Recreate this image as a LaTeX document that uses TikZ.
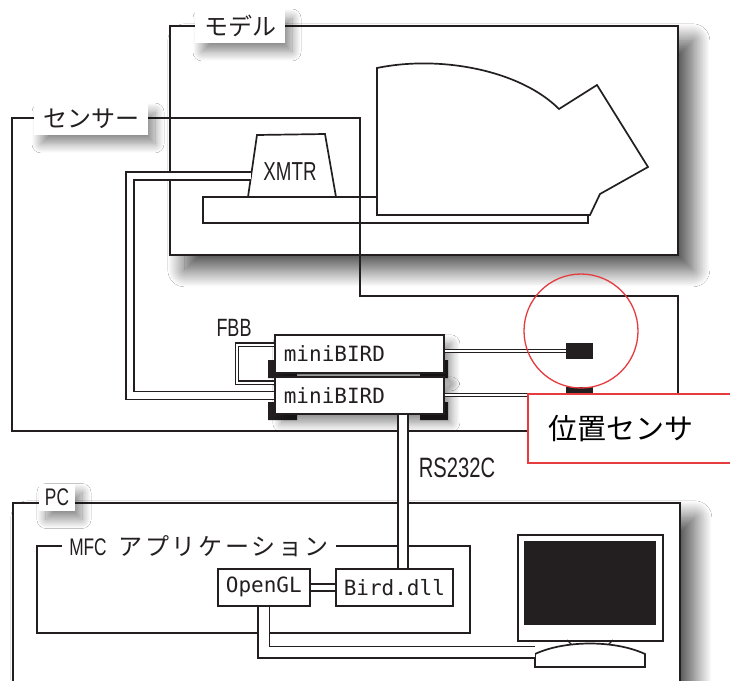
\documentclass[tikz,border=0pt]{standalone}
\usepackage{fontspec}
\setmainfont{Liberation Sans}
\newfontfamily\jpfont{Noto Sans CJK JP}
\newfontfamily\narrowfont[FakeStretch=0.72]{Liberation Sans}
\newfontfamily\codefont{DejaVu Sans Mono}
\usetikzlibrary{shadows.blur}

\definecolor{ink}{HTML}{231F20}
\definecolor{markred}{HTML}{E63B3F}

\tikzset{
  frame/.style={draw=ink, line width=1.7pt},
  paper/.style={frame, fill=white},
  softshadow/.style={blur shadow={shadow xshift=15pt, shadow yshift=-15pt,
      shadow blur radius=17pt, shadow blur steps=28, shadow opacity=70}},
  smallshadow/.style={blur shadow={shadow xshift=7pt, shadow yshift=-9pt,
      shadow blur radius=9pt, shadow blur steps=18, shadow opacity=45}},
  tag/.style={fill=white, inner xsep=9pt, inner ysep=6pt, text=ink},
  jp/.style={font=\jpfont\fontsize{24}{24}\selectfont},
  latin/.style={text=ink, inner sep=0pt, font=\narrowfont\fontsize{#1}{#1}\selectfont},
  latin/.default=26,
  birdbox/.style={paper, anchor=north west, inner sep=0pt, text=ink,
      font=\codefont\fontsize{21}{21}\selectfont},
  cable/.style={draw=ink, line width=1.5pt, double=white, double distance=#1},
  cable/.default=6.5pt,
  wire/.style={draw=ink, line width=1.1pt, double=white, double distance=#1},
  wire/.default=2.2pt,
  plug/.style={fill=ink, inner sep=0pt, minimum width=27pt, minimum height=16pt}
}

\begin{document}
\begin{tikzpicture}[x=1pt, y=-1pt]
  \fill[white] (0,0) rectangle (730,680);
  \useasboundingbox (0,0) rectangle (730,680);

  % model frame: tray, model body and transmitter
  \node[paper, softshadow, anchor=north west, minimum width=508pt,
        minimum height=229pt] (model) at (169,25) {};
  \draw[paper] (203,197) rectangle (588,223);
  \draw[paper] (377,215) -- (377,68) .. controls (440,55) and (520,70) .. (559,109)
     -- (597,85) -- (648,167) -- (600,194) -- (590,215) -- cycle;
  \draw[paper] (248,197) -- (257,135) -- (325,134) -- (336,197) -- cycle;
  \node[latin] (xmtr) at (290,172) {XMTR};
  \coordinate (xmtrport) at (251,176);
  \node[tag, jp, smallshadow] (modeltag) at (240,26) {モデル};

  % sensor frame
  \draw[frame] (12,118) -- (360,118) -- (360,296) -- (678,296) -- (678,431)
     -- (12,431) -- cycle;
  \node[tag, jp, smallshadow] (sensortag) at (91,119) {センサー};

  % two miniBIRD units with feet, FBB loop and cables
  \fill[ink] (268,360) rectangle (297,378) (420,360) rectangle (448,378)
             (268,402) rectangle (297,420) (420,402) rectangle (448,420);
  \node[birdbox, smallshadow, minimum width=169pt, minimum height=38pt,
        text width=151pt, inner xsep=9pt, align=left] (birdA) at (274,334) {miniBIRD};
  \node[birdbox, smallshadow, minimum width=169pt, minimum height=37pt,
        text width=151pt, inner xsep=9pt, align=left] (birdB) at (274,376) {miniBIRD};
  \draw[gray, line width=1pt] (297,374) -- (420,374);
  \node[latin=25] (fbb) at (234,328) {FBB};
  \draw[wire=2.6pt] ([yshift=9pt]birdA.west) -| ([xshift=-37pt, yshift=12.5pt]birdB.west)
     -- ([yshift=12.5pt]birdB.west);
  \draw[cable] (xmtrport) -- (130,176) |- (birdB.west);

  % position sensors
  \node[plug] (plugA) at (579.5,351) {};
  \node[plug] (plugB) at (579.5,395) {};
  \draw[wire] (birdA.east |- plugA) -- (plugA);
  \draw[wire] (birdB.east |- plugB) -- (plugB);

  % PC frame
  \node[paper, softshadow, anchor=north west, minimum width=667pt,
        minimum height=220pt] (pc) at (12,502) {};
  \node[latin=24, tag, inner xsep=6pt, inner ysep=5pt, smallshadow] (pctag) at (57,497) {PC};

  % MFC application
  \draw[frame] (37,546) rectangle (470,633);
  \node[fill=white, text=ink, inner xsep=7pt, inner ysep=2pt] (mfctag) at (199,546)
     {\narrowfont\fontsize{24}{24}\selectfont MFC\hspace{12pt}%
      \jpfont\fontsize{24}{24}\selectfont\addfontfeature{LetterSpace=11}アプリケーション};
  \node[birdbox, minimum width=92pt, minimum height=37pt] (ogl) at (217,568) {OpenGL};
  \node[birdbox, minimum width=117pt, minimum height=37pt] (dll) at (335,568) {Bird.dll};
  \draw[cable=5.5pt] (ogl) -- (dll);

  % monitor
  \node[paper, anchor=north west, minimum width=145pt, minimum height=106pt]
     (monitor) at (517,534) {};
  \fill[ink] (524,541) rectangle (656,625);
  \draw[ink, line width=1.3pt] (567,640) -- (573,646) (613,640) -- (607,646);
  \draw[paper] (535,667) -- (535,654) .. controls (565,640) and (615,640) .. (645,654)
     -- (645,667) -- cycle;
  \coordinate (stand) at (535,652);
  \draw[cable=10pt] (ogl.south) |- (stand);

  % serial line
  \draw[cable=8.5pt] ([xshift=8.5pt]dll.north |- birdB.south) -- ([xshift=8.5pt]dll.north);
  \node[latin=28] (rs) at (457,468) {RS232C};

  % sensor callout
  \draw[markred, line width=1.3pt] (581,331) circle[radius=57pt];
  \node[draw=markred, line width=1.5pt, fill=white, anchor=north west,
        minimum height=69pt, text width=190pt, inner xsep=21pt, align=left,
        font=\jpfont\fontsize{29}{29}\selectfont] (callout) at (527,393) {位置センサ};
\end{tikzpicture}
\end{document}
